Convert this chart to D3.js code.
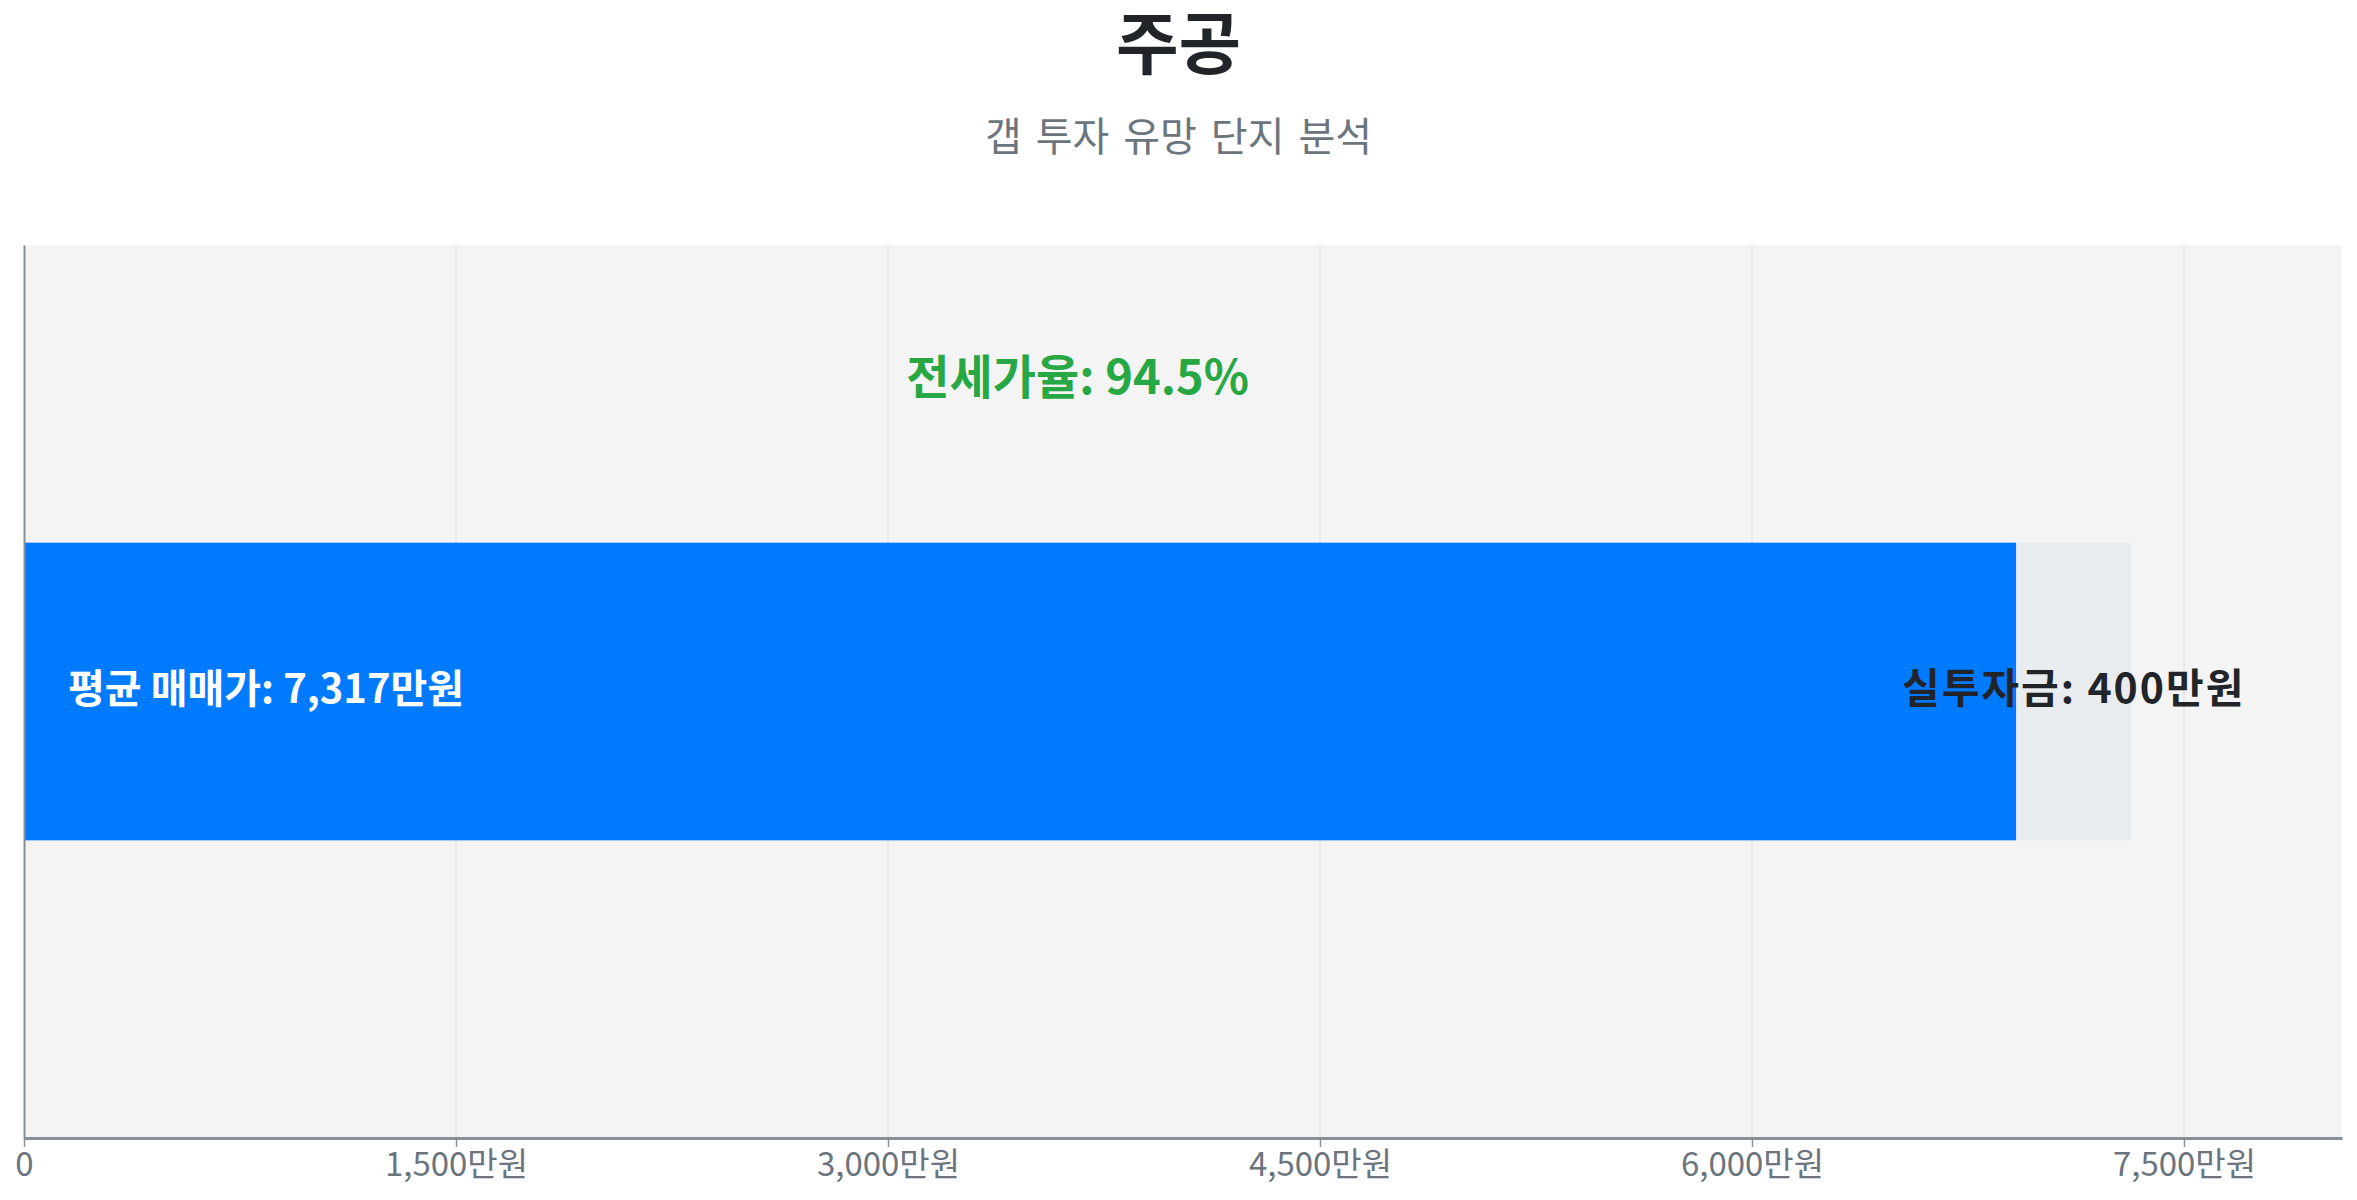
<!DOCTYPE html>
<html>
<head>
<meta charset="utf-8">
<script src="https://cdn.jsdelivr.net/npm/d3@7"></script>
<style>
  body { margin: 0; background: #fff; font-family: "Noto Sans CJK KR", "Noto Sans", sans-serif; }
  svg { display: block; }
</style>
</head>
<body>
<svg id="chart"></svg>
<script>
// data
var complexNames = ["주공"];
var salePrice = [7317];     // 평균 매매가 (만원)
var jeonsePrice = [6917];   // 전세가 (만원)
var gapInvest = [400];      // 실투자금 (만원)
var jeonseRatio = [94.5];   // 전세가율 (%)
var tickValues = [0, 1500, 3000, 4500, 6000, 7500];

var screen = { width: 2357, height: 1200 };
var margins = { top: 245, bottom: 62, left: 24, right: 15 };

var drawChart = function(idName, screen, margins)
{
  var graphWidth = screen.width - margins.left - margins.right;
  var graphHeight = screen.height - margins.top - margins.bottom;

  var svg = d3.select(idName)
      .attr("width", screen.width)
      .attr("height", screen.height);

  // title
  svg.append("text")
      .attr("x", screen.width / 2)
      .attr("y", 69)
      .attr("text-anchor", "middle")
      .attr("font-size", 68)
      .attr("font-weight", "bold")
      .attr("fill", "#212529")
      .text(complexNames[0]);

  svg.append("text")
      .attr("x", screen.width / 2)
      .attr("y", 151)
      .attr("text-anchor", "middle")
      .attr("font-size", 40)
      .attr("word-spacing", 5)
      .attr("fill", "#6c757d")
      .text("갭 투자 유망 단지 분석");

  var x = d3.scaleLinear()
      .domain([0, d3.max(salePrice) * 1.1])
      .range([0, graphWidth]);

  var y = d3.scaleBand()
      .domain(complexNames)
      .range([0, graphHeight])
      .padding(0.5);

  var g = svg.append("g")
      .attr("transform", "translate(" + margins.left + "," + margins.top + ")");

  g.append("rect")
      .attr("width", graphWidth)
      .attr("height", graphHeight)
      .attr("fill", "#f4f4f4");

  // grid
  g.append("g")
      .selectAll("line")
      .data(tickValues.filter(d => d > 0))
      .join("line")
        .attr("x1", d => x(d))
        .attr("x2", d => x(d))
        .attr("y1", 0)
        .attr("y2", graphHeight)
        .attr("stroke", "#e4e4e4")
        .attr("stroke-width", 1.5);

  var rows = complexNames.map((name, i) => ({
    name: name,
    sale: salePrice[i],
    jeonse: jeonsePrice[i],
    gap: gapInvest[i],
    ratio: jeonseRatio[i]
  }));

  // full sale price (gap part shows through)
  g.selectAll(".sale")
      .data(rows)
      .join("rect")
        .attr("class", "sale")
        .attr("x", x(0))
        .attr("y", d => y(d.name))
        .attr("width", d => x(d.sale) - x(0))
        .attr("height", y.bandwidth())
        .attr("fill", "#e9ecef");

  g.selectAll(".jeonse")
      .data(rows)
      .join("rect")
        .attr("class", "jeonse")
        .attr("x", x(0))
        .attr("y", d => y(d.name))
        .attr("width", d => x(d.jeonse) - x(0))
        .attr("height", y.bandwidth())
        .attr("fill", "#007bff");

  g.selectAll(".saleLabel")
      .data(rows)
      .join("text")
        .attr("class", "saleLabel")
        .attr("x", x(0) + 44)
        .attr("y", d => y(d.name) + y.bandwidth() / 2)
        .attr("dy", "0.28em")
        .attr("font-size", 40)
        .attr("font-weight", "bold")
        .attr("fill", "#fff")
        .text(d => "평균 매매가: " + d3.format(",")(d.sale) + "만원");

  g.selectAll(".gapLabel")
      .data(rows)
      .join("text")
        .attr("class", "gapLabel")
        .attr("x", d => (x(d.jeonse) + x(d.sale)) / 2)
        .attr("y", d => y(d.name) + y.bandwidth() / 2)
        .attr("dy", "0.28em")
        .attr("text-anchor", "middle")
        .attr("font-size", 41)
        .attr("letter-spacing", 2)
        .attr("font-weight", "bold")
        .attr("fill", "#212529")
        .text(d => "실투자금: " + d3.format(",")(d.gap) + "만원");

  g.selectAll(".ratioLabel")
      .data(rows)
      .join("text")
        .attr("class", "ratioLabel")
        .attr("x", d => x(d.sale / 2))
        .attr("y", d => y(d.name) / 2)
        .attr("text-anchor", "middle")
        .attr("font-size", 47)
        .attr("font-weight", "bold")
        .attr("fill", "#28a745")
        .text(d => "전세가율: " + d.ratio + "%");

  // axes
  var xAxis = d3.axisBottom(x)
      .tickValues(tickValues)
      .tickSize(9)
      .tickSizeOuter(0)
      .tickPadding(6)
      .tickFormat(d => d === 0 ? "0" : d3.format(",")(d) + "만원");

  var xg = g.append("g")
      .attr("transform", "translate(0," + graphHeight + ")")
      .call(xAxis);
  xg.select(".domain").attr("stroke", "#868e96").attr("stroke-width", 3);
  xg.selectAll(".tick line").attr("stroke", "#868e96").attr("stroke-width", 1.5);
  xg.selectAll(".tick text")
      .attr("font-size", 33)
      .attr("font-family", "'Noto Sans CJK KR', sans-serif")
      .attr("fill", "#6c757d");

  var yAxis = d3.axisLeft(y).tickSize(0).tickSizeOuter(0).tickFormat("");
  var yg = g.append("g").call(yAxis);
  yg.select(".domain").attr("stroke", "#868e96").attr("stroke-width", 2);
}

drawChart("#chart", screen, margins);
</script>
</body>
</html>
